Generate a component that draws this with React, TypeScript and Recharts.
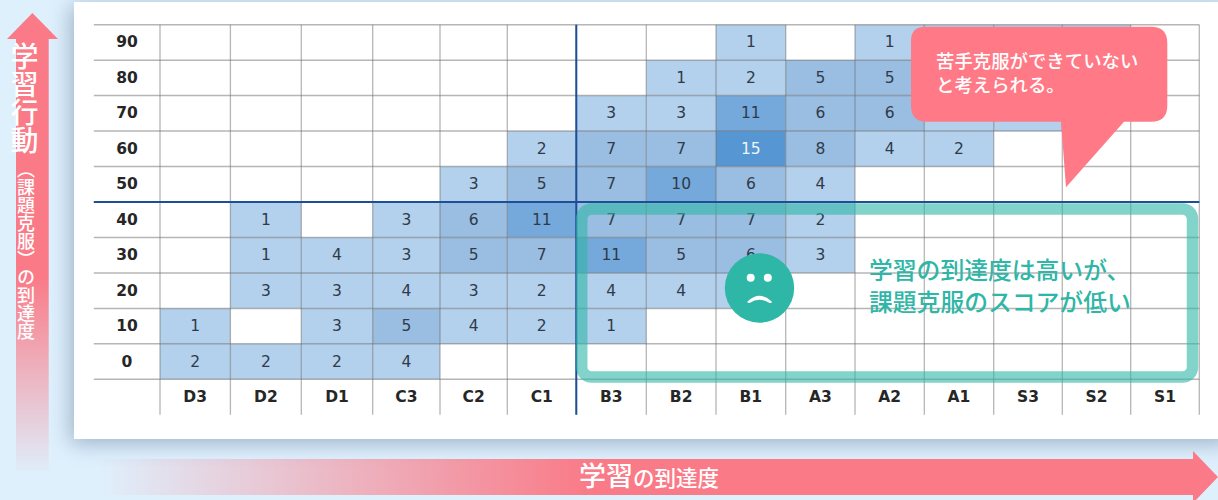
import React from 'react'
import { ScatterChart, Scatter, XAxis, YAxis, ReferenceLine } from 'recharts'

const GRADES = ['D3', 'D2', 'D1', 'C3', 'C2', 'C1', 'B3', 'B2', 'B1', 'A3', 'A2', 'A1', 'S3', 'S2', 'S1']
const SCORES = [90, 80, 70, 60, 50, 40, 30, 20, 10, 0]

// counts per grade, one list per score row (0 = empty cell)
const ROW_90 = [0, 0, 0, 0, 0, 0, 0, 0, 1, 0, 1, 1, 1, 1, 0]
const ROW_80 = [0, 0, 0, 0, 0, 0, 0, 1, 2, 5, 5, 3, 1, 0, 0]
const ROW_70 = [0, 0, 0, 0, 0, 0, 3, 3, 11, 6, 6, 4, 2, 0, 0]
const ROW_60 = [0, 0, 0, 0, 0, 2, 7, 7, 15, 8, 4, 2, 0, 0, 0]
const ROW_50 = [0, 0, 0, 0, 3, 5, 7, 10, 6, 4, 0, 0, 0, 0, 0]
const ROW_40 = [0, 1, 0, 3, 6, 11, 7, 7, 7, 2, 0, 0, 0, 0, 0]
const ROW_30 = [0, 1, 4, 3, 5, 7, 11, 5, 6, 3, 0, 0, 0, 0, 0]
const ROW_20 = [0, 3, 3, 4, 3, 2, 4, 4, 2, 0, 0, 0, 0, 0, 0]
const ROW_10 = [1, 0, 3, 5, 4, 2, 1, 0, 0, 0, 0, 0, 0, 0, 0]
const ROW_0 = [2, 2, 2, 4, 0, 0, 0, 0, 0, 0, 0, 0, 0, 0, 0]
const ROWS = [ROW_90, ROW_80, ROW_70, ROW_60, ROW_50, ROW_40, ROW_30, ROW_20, ROW_10, ROW_0]

const cells = ROWS.flatMap((row, r) =>
  row.map((count, c) => ({ col: c + 0.5, colIndex: c, score: SCORES[r], count })).filter((d) => d.count > 0),
)

// these numbers sit behind the callout and the face, only their fill shows
const isCovered = (d: any) => (d.colIndex >= 11 && d.score >= 70) || (d.colIndex === 8 && d.score === 20)

const JP = '"Noto Sans CJK JP", sans-serif'
const LATIN = '"DejaVu Sans", sans-serif'
const PINK = '#fa7a87'
const TEAL = '#2eb6a6'
const GRID = 'rgba(110,110,110,0.5)'
const DIVIDER = '#1c4f98'

// the columns of the original table are not all the same width
const COLUMN_EDGES = [160, 230.4, 301.3, 372.7, 440, 507.3, 576.3, 646.3, 716, 785.7, 855, 924.3, 993.7, 1062.3, 1130.7, 1199.3]

function columnScale(v: number) {
  const i = Math.max(0, Math.min(14, Math.floor(v)))
  return COLUMN_EDGES[i] + (v - i) * (COLUMN_EDGES[i + 1] - COLUMN_EDGES[i])
}
columnScale.domain = (d?: number[]) => (d ? columnScale : [0, 15])
columnScale.range = (r?: number[]) => (r ? columnScale : [160, 1199.3])
columnScale.copy = () => columnScale
columnScale.ticks = () => GRADES.map((_, i) => i + 0.5)

const ROW_HEIGHT = 35.46

function cellColor(count: number) {
  if (count >= 15) return '#5596d3'
  if (count >= 10) return '#75a8db'
  if (count >= 5) return '#9abde2'
  return '#b3d0ec'
}

function HeatCell(props: any) {
  const { cx, cy, payload } = props
  const left = columnScale(payload.colIndex)
  const width = columnScale(payload.colIndex + 1) - left
  return (
    <g>
      <rect x={left} y={cy - ROW_HEIGHT / 2} width={width} height={ROW_HEIGHT} fill={cellColor(payload.count)} />
      {!isCovered(payload) && (
        <text
          x={cx}
          y={cy + 5}
          textAnchor="middle"
          fontFamily={LATIN}
          fontSize={15.5}
          fill={payload.count >= 15 ? '#eef6fd' : '#2f3b4a'}
        >
          {payload.count}
        </text>
      )}
    </g>
  )
}

function ScoreTick(props: any) {
  const { x, y, payload } = props
  return (
    <text x={x - 33} y={y + 5} textAnchor="middle" fontFamily={LATIN} fontWeight="bold" fontSize={15.5} fill="#262626">
      {payload.value}
    </text>
  )
}

function GradeTick(props: any) {
  const { x, y, payload } = props
  return (
    <text x={x} y={y + 22.5} textAnchor="middle" fontFamily={LATIN} fontWeight="bold" fontSize={15.5} fill="#262626">
      {GRADES[Math.floor(payload.value)]}
    </text>
  )
}

function Overlay() {
  return (
    <svg width={1218} height={500} style={{ position: 'absolute', left: 0, top: 0 }}>
      <defs>
        <linearGradient id="upFade" x1="0" y1="0" x2="0" y2="1">
          <stop offset="0.55" stopColor={PINK} />
          <stop offset="1" stopColor={PINK} stopOpacity={0.03} />
        </linearGradient>
        <linearGradient id="rightFade" x1="0" y1="0" x2="1" y2="0">
          <stop offset="0" stopColor={PINK} stopOpacity={0} />
          <stop offset="0.45" stopColor={PINK} />
          <stop offset="1" stopColor={PINK} />
        </linearGradient>
      </defs>

      {/* vertical arrow */}
      <polygon points="32.4,13 58,39 7,39" fill={PINK} />
      <rect x={16} y={39} width={32.7} height={432} fill="url(#upFade)" />
      <text
        x={24.5}
        y={42}
        fontFamily={JP}
        fontSize={28}
        fontWeight={500}
        fill="#fff"
        style={{ writingMode: 'vertical-rl' }}
      >
        学習行動
      </text>
      <text
        x={26}
        y={160}
        fontFamily={JP}
        fontSize={18}
        fontWeight={500}
        fill="#fff"
        style={{ writingMode: 'vertical-rl' }}
      >
        （課題克服）の到達度
      </text>

      {/* horizontal arrow */}
      <rect x={96} y={459} width={1097} height={36} fill="url(#rightFade)" />
      <polygon points="1193,451 1218,477 1193,503" fill={PINK} />
      <text x={579} y={486} fontFamily={JP} fontSize={27} fontWeight={500} fill="#fff">
        学習
        <tspan fontSize={21.5}>の到達度</tspan>
      </text>

      {/* teal frame */}
      <rect x={581.7} y={209} width={610.8} height={168} rx={10} fill="none" stroke={TEAL} strokeOpacity={0.6} strokeWidth={11.5} />
      <circle cx={759.5} cy={288} r={34.7} fill={TEAL} />
      <circle cx={750.7} cy={277.7} r={4} fill="#fff" />
      <circle cx={767.8} cy={277.7} r={4} fill="#fff" />
      <path d="M747.5 301.5 Q759.5 290 771.7 301.5 Q772 303.5 769.5 303 Q759.5 296.5 749.5 303 Q747 303.5 747.5 301.5 Z" fill="#fff" />
      <text fontFamily={JP} fontSize={23.8} fontWeight={500} fill={TEAL}>
        <tspan x={869} y={279}>学習の到達度は高いが、</tspan>
        <tspan x={869} y={311}>課題克服のスコアが低い</tspan>
      </text>

      {/* callout */}
      <path
        d="M925 26.7 H1151 Q1167.3 26.7 1167.3 43 V105.4 Q1167.3 121.7 1151 121.7 H1124 L1066 187.3 L1061 121.7 H927 Q911 121.7 911 105.4 V41 Q911 26.7 925 26.7 Z"
        fill="#ff7a86"
      />
      <text fontFamily={JP} fontSize={18.4} fontWeight={500} fill="#fff">
        <tspan x={936} y={68}>苦手克服ができていない</tspan>
        <tspan x={936} y={91.5}>と考えられる。</tspan>
      </text>
    </svg>
  )
}

export default function App() {
  const colLines = GRADES.map((_, i) => i).concat(15)
  const rowLines = SCORES.map((s) => s + 5).concat(-5)
  return (
    <div style={{ position: 'absolute', left: 0, top: 0, width: 1218, height: 500, overflow: 'hidden', background: '#dff0fd' }}>
      <div
        style={{
          position: 'absolute',
          left: 74,
          top: 2,
          width: 1160,
          height: 437,
          background: '#fff',
          boxShadow: '-3px 4px 20px rgba(60,90,125,0.42)',
        }}
      />
      <div style={{ position: 'absolute', left: 0, top: 0 }}>
        <ScatterChart width={1218} height={500} margin={{ top: 24.7, right: 18.7, bottom: 85.7, left: 94 }}>
          <XAxis
            type="number"
            dataKey="col"
            domain={[0, 15]}
            scale={columnScale as any}
            ticks={GRADES.map((_, i) => i + 0.5)}
            interval={0}
            height={35}
            axisLine={false}
            tickLine={false}
            tickSize={0}
            tickMargin={0}
            tick={<GradeTick />}
          />
          <YAxis
            type="number"
            dataKey="score"
            domain={[-5, 95]}
            ticks={SCORES}
            interval={0}
            width={66}
            axisLine={false}
            tickLine={false}
            tickSize={0}
            tickMargin={0}
            tick={<ScoreTick />}
          />
          <Scatter data={cells} shape={<HeatCell />} isAnimationActive={false} />
          {colLines.map((c) => (
            <ReferenceLine
              key={`c${c}`}
              segment={[{ x: c, y: 95 }, { x: c, y: -15 }]}
              ifOverflow="visible"
              stroke={GRID}
              strokeWidth={1.3}
              zIndex={700}
            />
          ))}
          {rowLines.map((s) => (
            <ReferenceLine
              key={`r${s}`}
              segment={[{ x: -0.94, y: s }, { x: 15, y: s }]}
              ifOverflow="visible"
              stroke={GRID}
              strokeWidth={1.5}
              zIndex={700}
            />
          ))}
          <ReferenceLine segment={[{ x: 6, y: 95 }, { x: 6, y: -15 }]} ifOverflow="visible" stroke={DIVIDER} strokeWidth={2} zIndex={710} />
          <ReferenceLine segment={[{ x: -0.94, y: 45 }, { x: 15, y: 45 }]} ifOverflow="visible" stroke={DIVIDER} strokeWidth={2} zIndex={710} />
        </ScatterChart>
      </div>
      <Overlay />
    </div>
  )
}
